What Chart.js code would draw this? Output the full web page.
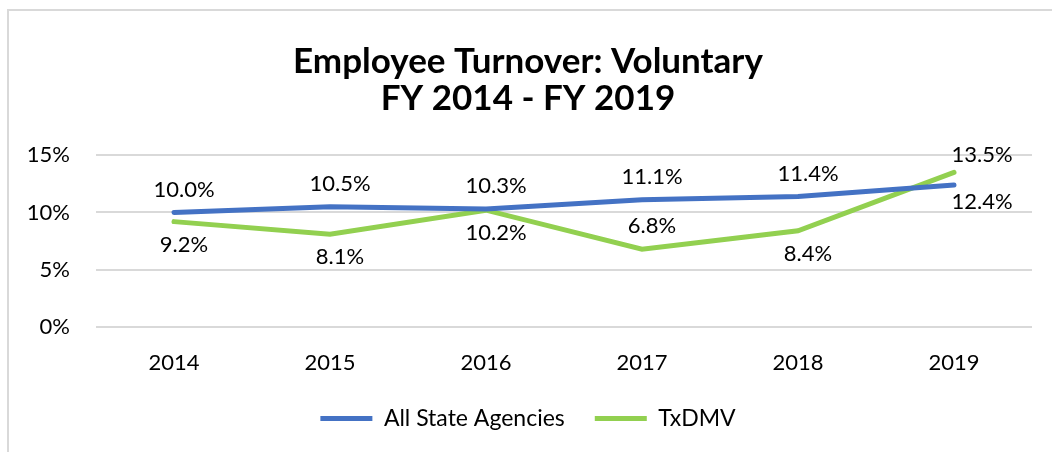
<!DOCTYPE html>
<html lang="en">
<head>
  <meta charset="UTF-8">
  <title>Employee Turnover: Voluntary</title>
  <script src="https://cdn.jsdelivr.net/npm/chart.js@4.4.1/dist/chart.umd.min.js"></script>
  <style>
    html, body {
      margin: 0;
      padding: 0;
      background: #ffffff;
    }
    #wrap {
      width: 1052px;
      height: 452px;
    }
  </style>
</head>
<body>
  <div id="wrap"><canvas id="turnover"></canvas></div>

  <script>
    const years = ['2014', '2015', '2016', '2017', '2018', '2019'];
    const allStateAgencies = [10.0, 10.5, 10.3, 11.1, 11.4, 12.4];
    const txdmv = [9.2, 8.1, 10.2, 6.8, 8.4, 13.5];
    const yTicks = [0, 5, 10, 15];

    const FONT = 'Lato, "Open Sans", sans-serif';

    // frame around the chart, like the Excel chart border
    const frame = {
      id: 'frame',
      beforeDraw(chart) {
        const ctx = chart.ctx;
        ctx.save();
        ctx.strokeStyle = '#d9d9d9';
        ctx.lineWidth = 2;
        ctx.strokeRect(8, 10, 1200, 600);
        ctx.restore();
      }
    };

    // value labels next to each point (no datalabels plugin offline)
    const pointLabels = {
      id: 'pointLabels',
      afterDatasetsDraw(chart) {
        const ctx = chart.ctx;
        ctx.save();
        ctx.font = '22px ' + FONT;
        ctx.fillStyle = '#000';
        ctx.textAlign = 'center';
        ctx.textBaseline = 'middle';
        chart.data.datasets.forEach((ds, i) => {
          const meta = chart.getDatasetMeta(i);
          meta.data.forEach((pt, j) => {
            const last = j === meta.data.length - 1;
            const dir = ds.labelSide[j] === 'above' ? -1 : 1;
            const dy = last ? 17 : 23;
            const dx = last ? 28 : 10;
            ctx.fillText(ds.data[j].toFixed(1) + '%', pt.x + dx, pt.y + dir * dy);
          });
        });
        ctx.restore();
      }
    };

    new Chart(document.getElementById('turnover'), {
      type: 'line',
      data: {
        labels: years,
        datasets: [
          {
            label: 'All State Agencies',
            data: allStateAgencies,
            borderColor: '#4472c4',
            backgroundColor: '#4472c4',
            borderWidth: 5,
            borderCapStyle: 'round',
            pointRadius: 0,
            tension: 0,
            labelSide: ['above', 'above', 'above', 'above', 'above', 'below']
          },
          {
            label: 'TxDMV',
            data: txdmv,
            borderColor: '#92d050',
            backgroundColor: '#92d050',
            borderWidth: 5,
            borderCapStyle: 'round',
            pointRadius: 0,
            tension: 0,
            labelSide: ['below', 'below', 'below', 'above', 'below', 'above']
          }
        ]
      },
      options: {
        responsive: true,
        maintainAspectRatio: false,
        animation: false,
        layout: { padding: { left: 24, right: 20, top: 0, bottom: 12 } },
        plugins: {
          title: {
            display: true,
            text: ['Employee Turnover: Voluntary', 'FY 2014 - FY 2019'],
            color: '#000',
            font: { family: FONT, size: 35, weight: 'bold', lineHeight: 1.06 },
            padding: { top: 43, bottom: 38 }
          },
          legend: {
            position: 'bottom',
            labels: {
              color: '#000',
              font: { family: FONT, size: 23 },
              usePointStyle: true,
              pointStyle: 'line',
              pointStyleWidth: 52,
              padding: 30
            }
          },
          tooltip: { enabled: false }
        },
        scales: {
          x: {
            offset: true,
            grid: { display: false },
            border: { display: false },
            ticks: { color: '#000', font: { family: FONT, size: 22 }, padding: 15 },
            afterFit: (s) => { s.height = 50; }
          },
          y: {
            min: 0,
            max: 15,
            afterBuildTicks: (s) => { s.ticks = yTicks.map(v => ({ value: v })); },
            grid: { color: '#d9d9d9', lineWidth: 2, drawTicks: false },
            border: { display: false },
            ticks: {
              color: '#000',
              font: { family: FONT, size: 22 },
              padding: 26,
              callback: (v) => v + '%'
            },
            afterFit: (s) => { s.width = 72; }
          }
        }
      },
      plugins: [frame, pointLabels]
    });
  </script>
</body>
</html>
